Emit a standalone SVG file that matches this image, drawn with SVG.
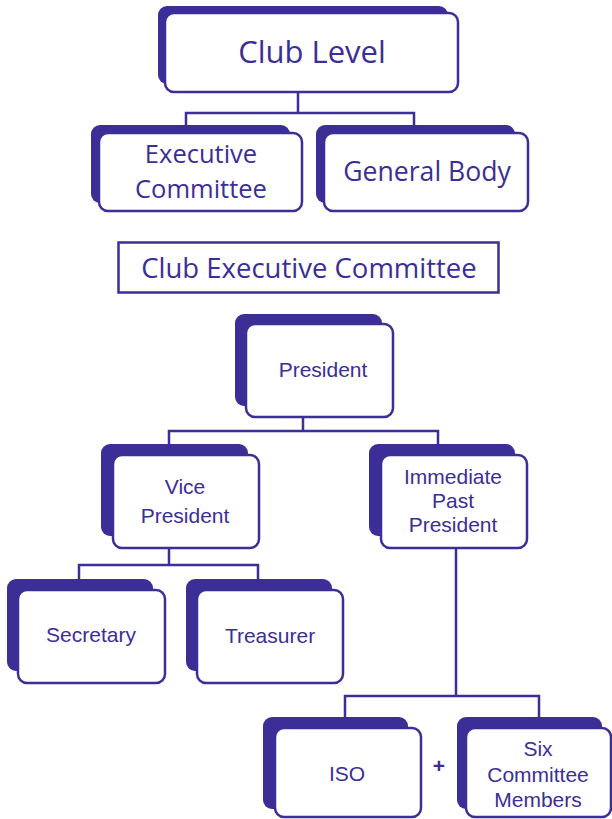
<svg xmlns="http://www.w3.org/2000/svg" width="612" height="819" viewBox="0 0 612 819">
<defs>
<style>
.sh{fill:#3c2e97}
.bx{fill:#fff;stroke:#3c2e97;stroke-width:2.5}
.ln{fill:none;stroke:#3c2e97;stroke-width:2.5}
.t1{font-family:"Open Sans","Noto Sans",sans-serif;fill:#3c2e97;text-anchor:middle}
.t2{font-family:"Liberation Sans",Arial,sans-serif;fill:#3c2e97;text-anchor:middle;font-size:21px}
</style>
</defs>
<rect width="612" height="819" fill="#fff"/>
<g id="connectors">
<path class="ln" d="M298 92V113M186 125V113H414V125"/>
<path class="ln" d="M303 417V431M169 444V431H438V444"/>
<path class="ln" d="M169 548V565M79 579V565H258V579"/>
<path class="ln" d="M456 548V696M345 717V696H539V717"/>
</g>
<g id="club-level">
<rect class="sh" x="158" y="6" width="290" height="78" rx="9"/>
<rect class="bx" x="165" y="13" width="293" height="79" rx="9"/>
<text class="t1" x="312" y="63" font-size="31">Club Level</text>
</g>
<g id="executive-committee">
<rect class="sh" x="91" y="125" width="199" height="78" rx="9"/>
<rect class="bx" x="99" y="133" width="203" height="78" rx="9"/>
<text class="t1" x="201" y="163" font-size="25.5">Executive</text>
<text class="t1" x="201" y="198" font-size="25.5">Committee</text>
</g>
<g id="general-body">
<rect class="sh" x="316" y="125" width="199" height="78" rx="9"/>
<rect class="bx" x="324" y="133" width="204" height="78" rx="9"/>
<text class="t1" x="427" y="181" font-size="26.6">General Body</text>
</g>
<g id="club-executive-committee">
<rect x="118.5" y="242.5" width="380" height="50" fill="#fff" stroke="#3c2e97" stroke-width="2.5"/>
<text class="t1" x="309" y="278" font-size="27.5">Club Executive Committee</text>
</g>
<g id="president">
<rect class="sh" x="235" y="314" width="147" height="92" rx="9"/>
<rect class="bx" x="246" y="324" width="147" height="93" rx="9"/>
<text class="t2" x="323" y="377">President</text>
</g>
<g id="vice-president">
<rect class="sh" x="101" y="444" width="147" height="92" rx="9"/>
<rect class="bx" x="113" y="455" width="146" height="93" rx="9"/>
<text class="t2" x="185" y="494">Vice</text>
<text class="t2" x="185" y="523">President</text>
</g>
<g id="immediate-past-president">
<rect class="sh" x="369" y="444" width="146" height="92" rx="9"/>
<rect class="bx" x="381" y="455" width="146" height="93" rx="9"/>
<text class="t2" x="453" y="484">Immediate</text>
<text class="t2" x="453" y="508">Past</text>
<text class="t2" x="453" y="532">President</text>
</g>
<g id="secretary">
<rect class="sh" x="7" y="579" width="146" height="92" rx="9"/>
<rect class="bx" x="18" y="590" width="147" height="93" rx="9"/>
<text class="t2" x="91" y="642">Secretary</text>
</g>
<g id="treasurer">
<rect class="sh" x="186" y="579" width="146" height="92" rx="9"/>
<rect class="bx" x="197" y="590" width="146" height="93" rx="9"/>
<text class="t2" x="270" y="643">Treasurer</text>
</g>
<g id="iso">
<rect class="sh" x="263" y="717" width="145" height="92" rx="9"/>
<rect class="bx" x="275" y="728" width="146" height="89" rx="9"/>
<text class="t2" x="347" y="781">ISO</text>
</g>
<g id="plus">
<text x="439" y="773" font-family="Liberation Sans,Arial,sans-serif" font-weight="bold" font-size="21" fill="#3c2e97" text-anchor="middle">+</text>
</g>
<g id="six-committee-members">
<rect class="sh" x="457" y="717" width="145" height="92" rx="9"/>
<rect class="bx" x="466" y="728" width="145" height="89" rx="9"/>
<text class="t2" x="538" y="756">Six</text>
<text class="t2" x="538" y="782">Committee</text>
<text class="t2" x="538" y="807">Members</text>
</g>
</svg>
